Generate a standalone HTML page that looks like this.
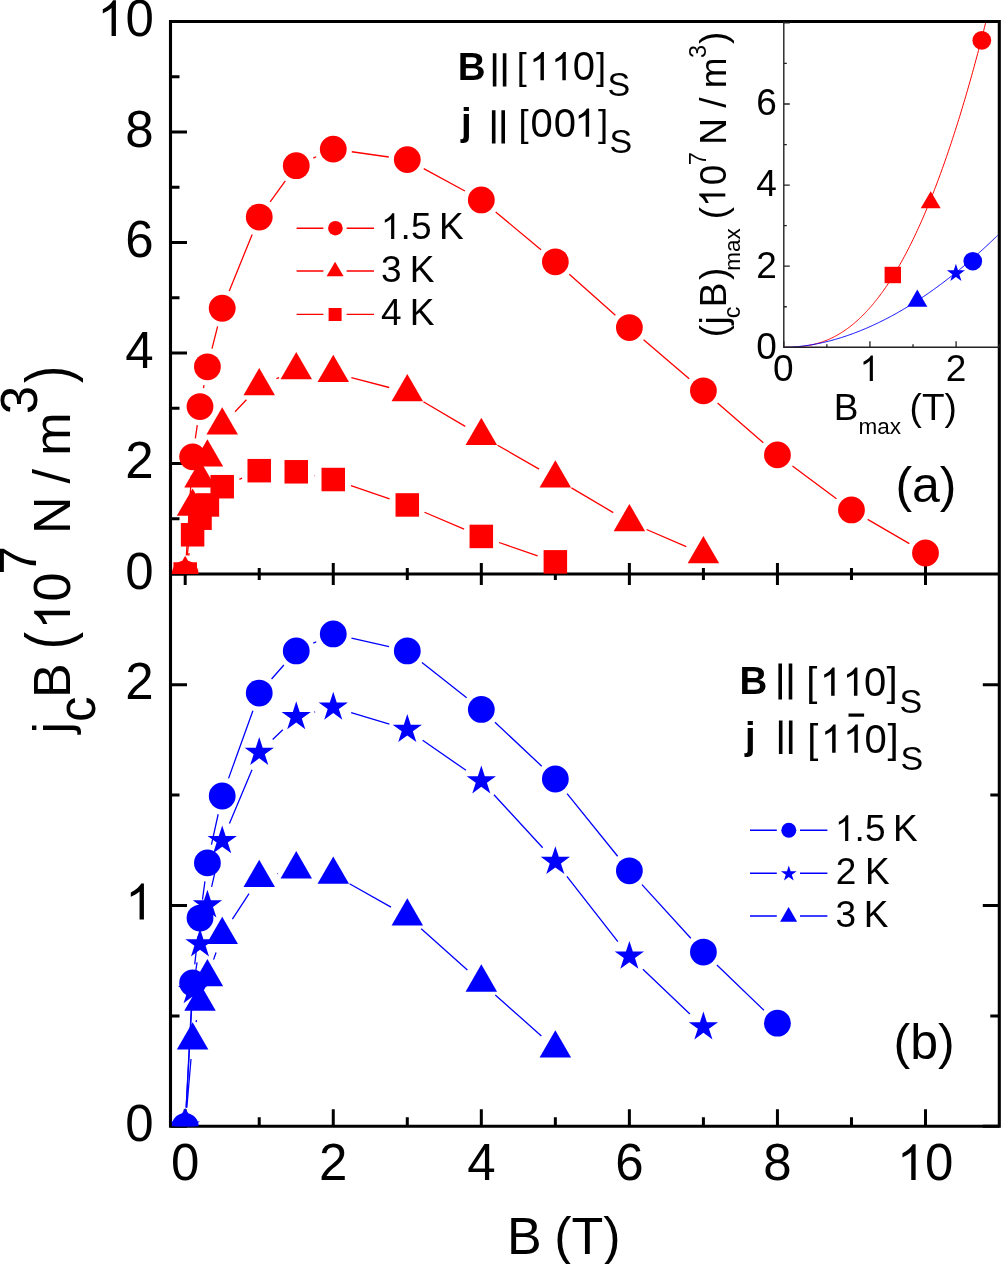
<!DOCTYPE html>
<html><head><meta charset="utf-8"><style>html,body{margin:0;padding:0;background:#fff;overflow:hidden}svg{display:block;will-change:transform}</style></head>
<body><svg width="1001" height="1264" viewBox="0 0 1001 1264" font-family="Liberation Sans, sans-serif">
<rect width="1001" height="1264" fill="#fff"/>
<defs><clipPath id="cu"><rect x="170.5" y="21.5" width="828.8" height="552.5"/></clipPath><clipPath id="cl"><rect x="170.5" y="574" width="828.8" height="552.3"/></clipPath><clipPath id="ci"><rect x="783.8" y="23" width="213.9000000000001" height="324.3"/></clipPath></defs>
<text x="457.82" y="80.40" font-size="38.5" font-weight="bold" fill="#000" xml:space="preserve">B</text>
<path d="M494.6,53.3V86.5M504.6,53.3V86.5M493.7,110.3V143.6M503.2,110.3V143.6" stroke="#000" stroke-width="3.6"/>
<text x="516.73" y="79.00" font-size="36" fill="#000" xml:space="preserve">[</text>
<path transform="translate(533.50,80.30) scale(0.01929)" d="M540,0H360V-1147C317,-1106 260,-1064 190,-1023C120,-982 57,-951 0,-930V-1104C101,-1151 189,-1209 264,-1276C339,-1343 392,-1408 424,-1472H540Z" fill="#000"/>
<path transform="translate(555.40,80.30) scale(0.01929)" d="M540,0H360V-1147C317,-1106 260,-1064 190,-1023C120,-982 57,-951 0,-930V-1104C101,-1151 189,-1209 264,-1276C339,-1343 392,-1408 424,-1472H540Z" fill="#000"/>
<text x="572.74" y="80.30" font-size="40" fill="#000" xml:space="preserve">0</text>
<text x="595.92" y="79.00" font-size="36" fill="#000" xml:space="preserve">]</text>
<text x="607.56" y="95.60" font-size="34" fill="#000" xml:space="preserve">S</text>
<text x="461.00" y="134.70" font-size="38.3" font-weight="bold" fill="#000" xml:space="preserve">j</text>
<text x="518.60" y="136.00" font-size="36.5" fill="#000" xml:space="preserve">[</text>
<text x="530.44" y="136.80" font-size="40" fill="#000" xml:space="preserve">0</text>
<text x="553.84" y="136.80" font-size="40" fill="#000" xml:space="preserve">0</text>
<path transform="translate(578.70,136.80) scale(0.01929)" d="M540,0H360V-1147C317,-1106 260,-1064 190,-1023C120,-982 57,-951 0,-930V-1104C101,-1151 189,-1209 264,-1276C339,-1343 392,-1408 424,-1472H540Z" fill="#000"/>
<text x="598.11" y="136.00" font-size="36.5" fill="#000" xml:space="preserve">]</text>
<text x="609.46" y="152.60" font-size="34" fill="#000" xml:space="preserve">S</text>
<text x="739.62" y="693.90" font-size="38.5" font-weight="bold" fill="#000" xml:space="preserve">B</text>
<path d="M780.2,663.5V699.6M790.5,663.5V699.6M780.7,720.5V754.1M790.7,720.5V754.1" stroke="#000" stroke-width="3.6"/>
<text x="806.15" y="695.80" font-size="40" fill="#000" xml:space="preserve">[</text>
<path transform="translate(824.20,695.80) scale(0.01929)" d="M540,0H360V-1147C317,-1106 260,-1064 190,-1023C120,-982 57,-951 0,-930V-1104C101,-1151 189,-1209 264,-1276C339,-1343 392,-1408 424,-1472H540Z" fill="#000"/>
<path transform="translate(847.00,695.80) scale(0.01929)" d="M540,0H360V-1147C317,-1106 260,-1064 190,-1023C120,-982 57,-951 0,-930V-1104C101,-1151 189,-1209 264,-1276C339,-1343 392,-1408 424,-1472H540Z" fill="#000"/>
<text x="864.04" y="695.80" font-size="40" fill="#000" xml:space="preserve">0</text>
<text x="886.59" y="695.80" font-size="40" fill="#000" xml:space="preserve">]</text>
<text x="899.56" y="713.40" font-size="34" fill="#000" xml:space="preserve">S</text>
<text x="745.09" y="748.70" font-size="38" font-weight="bold" fill="#000" xml:space="preserve">j</text>
<text x="807.15" y="752.80" font-size="40" fill="#000" xml:space="preserve">[</text>
<path transform="translate(825.20,752.80) scale(0.01929)" d="M540,0H360V-1147C317,-1106 260,-1064 190,-1023C120,-982 57,-951 0,-930V-1104C101,-1151 189,-1209 264,-1276C339,-1343 392,-1408 424,-1472H540Z" fill="#000"/>
<path transform="translate(847.40,752.80) scale(0.01929)" d="M540,0H360V-1147C317,-1106 260,-1064 190,-1023C120,-982 57,-951 0,-930V-1104C101,-1151 189,-1209 264,-1276C339,-1343 392,-1408 424,-1472H540Z" fill="#000"/>
<text x="864.44" y="752.80" font-size="40" fill="#000" xml:space="preserve">0</text>
<text x="887.49" y="752.80" font-size="40" fill="#000" xml:space="preserve">]</text>
<rect x="848.5" y="713.5" width="15.6" height="3.2" fill="#000"/>
<text x="900.46" y="770.40" font-size="34" fill="#000" xml:space="preserve">S</text>
<path d="M296.60,228.20h26.8M346.60,228.20h27.4" stroke="#ff0000" stroke-width="1.4"/><circle cx="335.40" cy="228.20" r="7.3" fill="#ff0000"/>
<path d="M296.60,271.00h26.8M346.60,271.00h27.4" stroke="#ff0000" stroke-width="1.4"/><polygon points="335.10,261.77 343.60,276.37 326.60,276.37" fill="#ff0000"/>
<path d="M296.60,314.40h26.8M346.60,314.40h27.4" stroke="#ff0000" stroke-width="1.4"/><rect x="328.60" y="308.00" width="13" height="13" fill="#ff0000"/>
<path transform="translate(384.80,239.00) scale(0.01753)" d="M540,0H360V-1147C317,-1106 260,-1064 190,-1023C120,-982 57,-951 0,-930V-1104C101,-1151 189,-1209 264,-1276C339,-1343 392,-1408 424,-1472H540Z" fill="#000"/>
<text x="400.62" y="239.00" font-size="37" fill="#000" xml:space="preserve">.5</text>
<text x="438.96" y="239.00" font-size="37" fill="#000" xml:space="preserve">K</text>
<text x="381.09" y="282.20" font-size="37" fill="#000" xml:space="preserve">3</text>
<text x="409.76" y="282.20" font-size="37" fill="#000" xml:space="preserve">K</text>
<text x="380.95" y="325.00" font-size="37" fill="#000" xml:space="preserve">4</text>
<text x="409.76" y="325.00" font-size="37" fill="#000" xml:space="preserve">K</text>
<path d="M750.00,830.30h26.8M800.00,830.30h27.4" stroke="#0000ff" stroke-width="1.4"/><circle cx="788.80" cy="830.30" r="7.5" fill="#0000ff"/>
<path d="M750.00,873.20h26.8M800.00,873.20h27.4" stroke="#0000ff" stroke-width="1.4"/><polygon points="788.80,865.50 790.66,871.23 796.69,871.24 791.82,874.78 793.68,880.51 788.80,876.97 783.92,880.51 785.78,874.78 780.91,871.24 786.94,871.23" fill="#0000ff"/>
<path d="M750.00,916.00h26.8M800.00,916.00h27.4" stroke="#0000ff" stroke-width="1.4"/><polygon points="788.60,907.07 797.10,921.67 780.10,921.67" fill="#0000ff"/>
<path transform="translate(838.80,841.00) scale(0.01753)" d="M540,0H360V-1147C317,-1106 260,-1064 190,-1023C120,-982 57,-951 0,-930V-1104C101,-1151 189,-1209 264,-1276C339,-1343 392,-1408 424,-1472H540Z" fill="#000"/>
<text x="854.62" y="841.00" font-size="37" fill="#000" xml:space="preserve">.5</text>
<text x="892.96" y="841.00" font-size="37" fill="#000" xml:space="preserve">K</text>
<text x="835.64" y="884.00" font-size="37" fill="#000" xml:space="preserve">2</text>
<text x="864.96" y="884.00" font-size="37" fill="#000" xml:space="preserve">K</text>
<text x="835.39" y="927.00" font-size="37" fill="#000" xml:space="preserve">3</text>
<text x="863.76" y="927.00" font-size="37" fill="#000" xml:space="preserve">K</text>
<text x="895.40" y="501.50" font-size="50" fill="#000" xml:space="preserve">(a)</text>
<text x="893.50" y="1058.80" font-size="50" fill="#000" xml:space="preserve">(b)</text>
<path d="M170.5,574.00h16.5M170.5,518.75h9M170.5,463.50h16.5M170.5,408.25h9M170.5,353.00h16.5M170.5,297.75h9M170.5,242.50h16.5M170.5,187.25h9M170.5,132.00h16.5M170.5,76.75h9M170.5,21.50h16.5M170.5,1126.30h16.5M999.3,1126.30h-16.5M170.5,1015.90h9M999.3,1015.90h-9M170.5,905.50h16.5M999.3,905.50h-16.5M170.5,795.10h9M999.3,795.10h-9M170.5,684.70h16.5M999.3,684.70h-16.5M185.20,563.0V585.0M259.23,568.0V580.0M333.26,563.0V585.0M407.29,568.0V580.0M481.32,563.0V585.0M555.35,568.0V580.0M629.38,563.0V585.0M703.41,568.0V580.0M777.44,563.0V585.0M851.47,568.0V580.0M925.50,563.0V585.0M185.20,1126.3v-17M259.23,1126.3v-9M333.26,1126.3v-17M407.29,1126.3v-9M481.32,1126.3v-17M555.35,1126.3v-9M629.38,1126.3v-17M703.41,1126.3v-9M777.44,1126.3v-17M851.47,1126.3v-9M925.50,1126.3v-17" stroke="#000" stroke-width="3" fill="none"/>
<path d="M170.5,21.5H999.3V1126.3H170.5Z M170.5,574.0H999.3" stroke="#000" stroke-width="3.1" fill="none"/>
<g clip-path="url(#cu)">
<path d="M186.38,555.34L191.42,475.53M195.33,438.37L197.28,425.09M203.43,388.21L203.99,385.20M211.99,348.68L217.63,326.38M229.25,290.92L252.19,234.41M270.16,201.91L285.31,180.88M313.31,158.06L316.19,156.77M351.77,151.75L388.78,157.00M423.71,168.57L464.90,191.01M495.67,211.95L541.00,249.84M569.33,274.26L615.40,315.17M643.60,339.73L689.19,378.65M717.55,403.03L763.30,442.64M792.45,466.04L836.46,498.75M867.63,519.32L909.34,543.60" stroke="#ff0000" stroke-width="1.3" fill="none"/>
<path d="M187.24,555.41L190.56,525.18M235.05,411.78L246.40,399.75M276.39,378.72L279.08,377.56M351.35,377.62L389.20,387.50M423.40,401.73L465.21,426.38M497.53,445.19L539.14,469.10M571.46,487.92L613.27,512.57M646.54,529.49L686.25,546.68" stroke="#ff0000" stroke-width="1.3" fill="none"/>
<path d="M188.67,555.62L189.14,553.15M239.38,479.28L242.07,478.11M314.55,475.61L314.96,475.70M350.95,485.59L389.60,498.87M424.50,512.26L464.11,529.11M499.01,542.50L537.66,555.77" stroke="#ff0000" stroke-width="1.3" fill="none"/>
<rect x="173.45" y="562.25" width="23.5" height="23.5" fill="#ff0000"/>
<rect x="180.85" y="523.02" width="23.5" height="23.5" fill="#ff0000"/>
<rect x="188.26" y="506.45" width="23.5" height="23.5" fill="#ff0000"/>
<rect x="195.66" y="493.19" width="23.5" height="23.5" fill="#ff0000"/>
<rect x="210.46" y="474.95" width="23.5" height="23.5" fill="#ff0000"/>
<rect x="247.48" y="458.93" width="23.5" height="23.5" fill="#ff0000"/>
<rect x="284.50" y="460.04" width="23.5" height="23.5" fill="#ff0000"/>
<rect x="321.51" y="467.77" width="23.5" height="23.5" fill="#ff0000"/>
<rect x="395.54" y="493.19" width="23.5" height="23.5" fill="#ff0000"/>
<rect x="469.57" y="524.68" width="23.5" height="23.5" fill="#ff0000"/>
<rect x="543.60" y="550.10" width="23.5" height="23.5" fill="#ff0000"/>
<polygon points="185.20,555.81 200.95,583.09 169.45,583.09" fill="#ff0000"/>
<polygon points="192.60,488.41 208.35,515.69 176.85,515.69" fill="#ff0000"/>
<polygon points="200.01,460.23 215.76,487.51 184.26,487.51" fill="#ff0000"/>
<polygon points="207.41,439.24 223.16,466.52 191.66,466.52" fill="#ff0000"/>
<polygon points="222.21,407.19 237.96,434.47 206.46,434.47" fill="#ff0000"/>
<polygon points="259.23,367.96 274.98,395.24 243.48,395.24" fill="#ff0000"/>
<polygon points="296.25,351.94 312.00,379.22 280.50,379.22" fill="#ff0000"/>
<polygon points="333.26,354.70 349.01,381.98 317.51,381.98" fill="#ff0000"/>
<polygon points="407.29,374.04 423.04,401.32 391.54,401.32" fill="#ff0000"/>
<polygon points="481.32,417.69 497.07,444.97 465.57,444.97" fill="#ff0000"/>
<polygon points="555.35,460.23 571.10,487.51 539.60,487.51" fill="#ff0000"/>
<polygon points="629.38,503.88 645.13,531.16 613.63,531.16" fill="#ff0000"/>
<polygon points="703.41,535.92 719.16,563.20 687.66,563.20" fill="#ff0000"/>
<circle cx="185.20" cy="574.00" r="13.4" fill="#ff0000"/>
<circle cx="192.60" cy="456.87" r="13.4" fill="#ff0000"/>
<circle cx="200.01" cy="406.59" r="13.4" fill="#ff0000"/>
<circle cx="207.41" cy="366.81" r="13.4" fill="#ff0000"/>
<circle cx="222.21" cy="308.25" r="13.4" fill="#ff0000"/>
<circle cx="259.23" cy="217.08" r="13.4" fill="#ff0000"/>
<circle cx="296.25" cy="165.70" r="13.4" fill="#ff0000"/>
<circle cx="333.26" cy="149.13" r="13.4" fill="#ff0000"/>
<circle cx="407.29" cy="159.62" r="13.4" fill="#ff0000"/>
<circle cx="481.32" cy="199.96" r="13.4" fill="#ff0000"/>
<circle cx="555.35" cy="261.84" r="13.4" fill="#ff0000"/>
<circle cx="629.38" cy="327.59" r="13.4" fill="#ff0000"/>
<circle cx="703.41" cy="390.79" r="13.4" fill="#ff0000"/>
<circle cx="777.44" cy="454.88" r="13.4" fill="#ff0000"/>
<circle cx="851.47" cy="509.91" r="13.4" fill="#ff0000"/>
<circle cx="925.50" cy="553.00" r="13.4" fill="#ff0000"/>
</g>
<g clip-path="url(#cl)">
<path d="M186.16,1107.62L191.64,1001.68M194.72,964.42L197.89,936.67M202.49,899.55L204.92,881.42M211.45,844.63L218.17,814.24M228.55,778.39L252.90,710.69M271.57,679.04L283.91,664.97M313.24,643.11L316.27,641.72M351.49,638.10L389.06,646.73M421.96,662.51L466.65,697.83M494.95,722.23L541.72,766.18M567.08,793.54L617.65,856.27M641.97,884.66L690.82,938.27M716.90,965.04L763.95,1010.23" stroke="#0000ff" stroke-width="1.3" fill="none"/>
<path d="M186.22,1107.63L191.58,1009.40M195.52,972.26L197.08,962.39M203.51,925.55L203.91,923.43M211.61,886.84L218.02,859.03M229.44,823.56L252.00,769.73M272.68,739.49L282.80,729.71M314.36,712.07L315.15,711.87M351.17,712.62L389.38,724.13M422.65,740.19L465.96,770.30M493.97,794.74L542.70,847.79M566.87,876.29L617.86,941.55M642.91,969.20L689.88,1014.03" stroke="#0000ff" stroke-width="1.3" fill="none"/>
<path d="M186.81,1107.67L191.00,1059.04M196.12,1022.04L196.49,1020.13M213.57,959.61L216.05,952.52M232.40,919.19L249.04,893.58M277.44,873.66L278.03,873.53M349.55,883.77L391.00,907.14M421.23,928.79L467.38,970.09M495.30,994.98L541.37,1035.93" stroke="#0000ff" stroke-width="1.3" fill="none"/>
<polygon points="185.20,1108.11 200.95,1135.39 169.45,1135.39" fill="#0000ff"/>
<polygon points="192.60,1022.22 208.35,1049.50 176.85,1049.50" fill="#0000ff"/>
<polygon points="200.01,983.58 215.76,1010.86 184.26,1010.86" fill="#0000ff"/>
<polygon points="207.41,959.07 223.16,986.35 191.66,986.35" fill="#0000ff"/>
<polygon points="222.21,916.68 237.96,943.96 206.46,943.96" fill="#0000ff"/>
<polygon points="259.23,859.71 274.98,886.99 243.48,886.99" fill="#0000ff"/>
<polygon points="296.25,851.10 312.00,878.38 280.50,878.38" fill="#0000ff"/>
<polygon points="333.26,856.40 349.01,883.68 317.51,883.68" fill="#0000ff"/>
<polygon points="407.29,898.13 423.04,925.41 391.54,925.41" fill="#0000ff"/>
<polygon points="481.32,964.37 497.07,991.65 465.57,991.65" fill="#0000ff"/>
<polygon points="555.35,1030.17 571.10,1057.45 539.60,1057.45" fill="#0000ff"/>
<polygon points="185.20,1110.90 188.66,1121.54 199.85,1121.54 190.79,1128.12 194.25,1138.76 185.20,1132.18 176.15,1138.76 179.61,1128.12 170.55,1121.54 181.74,1121.54" fill="#0000ff"/>
<polygon points="192.60,975.33 196.06,985.97 207.25,985.97 198.20,992.55 201.65,1003.19 192.60,996.61 183.55,1003.19 187.01,992.55 177.96,985.97 189.15,985.97" fill="#0000ff"/>
<polygon points="200.01,928.52 203.46,939.16 214.65,939.16 205.60,945.74 209.06,956.38 200.01,949.80 190.95,956.38 194.41,945.74 185.36,939.16 196.55,939.16" fill="#0000ff"/>
<polygon points="207.41,889.66 210.87,900.30 222.06,900.30 213.00,906.88 216.46,917.52 207.41,910.94 198.36,917.52 201.81,906.88 192.76,900.30 203.95,900.30" fill="#0000ff"/>
<polygon points="222.21,825.41 225.67,836.05 236.86,836.05 227.81,842.62 231.27,853.26 222.21,846.69 213.16,853.26 216.62,842.62 207.57,836.05 218.76,836.05" fill="#0000ff"/>
<polygon points="259.23,737.09 262.69,747.73 273.88,747.73 264.82,754.30 268.28,764.94 259.23,758.37 250.18,764.94 253.64,754.30 244.58,747.73 255.77,747.73" fill="#0000ff"/>
<polygon points="296.25,701.32 299.70,711.96 310.89,711.96 301.84,718.53 305.30,729.17 296.25,722.60 287.19,729.17 290.65,718.53 281.60,711.96 292.79,711.96" fill="#0000ff"/>
<polygon points="333.26,691.82 336.72,702.46 347.91,702.46 338.85,709.04 342.31,719.68 333.26,713.10 324.21,719.68 327.67,709.04 318.61,702.46 329.80,702.46" fill="#0000ff"/>
<polygon points="407.29,714.12 410.75,724.76 421.94,724.76 412.88,731.34 416.34,741.98 407.29,735.41 398.24,741.98 401.70,731.34 392.64,724.76 403.83,724.76" fill="#0000ff"/>
<polygon points="481.32,765.57 484.78,776.21 495.97,776.21 486.91,782.79 490.37,793.43 481.32,786.85 472.27,793.43 475.73,782.79 466.67,776.21 477.86,776.21" fill="#0000ff"/>
<polygon points="555.35,846.16 558.81,856.80 570.00,856.80 560.94,863.38 564.40,874.02 555.35,867.44 546.30,874.02 549.76,863.38 540.70,856.80 551.89,856.80" fill="#0000ff"/>
<polygon points="629.38,940.88 632.84,951.52 644.03,951.53 634.97,958.10 638.43,968.74 629.38,962.17 620.33,968.74 623.79,958.10 614.73,951.53 625.92,951.52" fill="#0000ff"/>
<polygon points="703.41,1011.54 706.87,1022.18 718.06,1022.18 709.00,1028.76 712.46,1039.40 703.41,1032.82 694.36,1039.40 697.82,1028.76 688.76,1022.18 699.95,1022.18" fill="#0000ff"/>
<circle cx="185.20" cy="1126.30" r="13.4" fill="#0000ff"/>
<circle cx="192.60" cy="983.00" r="13.4" fill="#0000ff"/>
<circle cx="200.01" cy="918.09" r="13.4" fill="#0000ff"/>
<circle cx="207.41" cy="862.89" r="13.4" fill="#0000ff"/>
<circle cx="222.21" cy="795.98" r="13.4" fill="#0000ff"/>
<circle cx="259.23" cy="693.09" r="13.4" fill="#0000ff"/>
<circle cx="296.25" cy="650.92" r="13.4" fill="#0000ff"/>
<circle cx="333.26" cy="633.92" r="13.4" fill="#0000ff"/>
<circle cx="407.29" cy="650.92" r="13.4" fill="#0000ff"/>
<circle cx="481.32" cy="709.43" r="13.4" fill="#0000ff"/>
<circle cx="555.35" cy="778.98" r="13.4" fill="#0000ff"/>
<circle cx="629.38" cy="870.83" r="13.4" fill="#0000ff"/>
<circle cx="703.41" cy="952.09" r="13.4" fill="#0000ff"/>
<circle cx="777.44" cy="1023.19" r="13.4" fill="#0000ff"/>
</g>
<g clip-path="url(#ci)">
<polyline points="783.80,347.30 784.66,347.30 785.52,347.30 786.38,347.29 787.25,347.29 788.11,347.28 788.97,347.26 789.83,347.24 790.69,347.22 791.55,347.20 792.41,347.17 793.28,347.13 794.14,347.09 795.00,347.04 795.86,346.99 796.72,346.93 797.58,346.87 798.45,346.80 799.31,346.73 800.17,346.65 801.03,346.56 801.89,346.46 802.75,346.36 803.61,346.25 804.48,346.13 805.34,346.01 806.20,345.88 807.06,345.74 807.92,345.59 808.78,345.44 809.64,345.28 810.51,345.11 811.37,344.93 812.23,344.74 813.09,344.54 813.95,344.34 814.81,344.13 815.68,343.90 816.54,343.67 817.40,343.43 818.26,343.18 819.12,342.92 819.98,342.65 820.84,342.38 821.71,342.09 822.57,341.79 823.43,341.48 824.29,341.17 825.15,340.84 826.01,340.50 826.88,340.15 827.74,339.80 828.60,339.43 829.46,339.05 830.32,338.66 831.18,338.26 832.04,337.84 832.91,337.42 833.77,336.99 834.63,336.54 835.49,336.09 836.35,335.62 837.21,335.14 838.07,334.65 838.94,334.15 839.80,333.64 840.66,333.11 841.52,332.57 842.38,332.02 843.24,331.46 844.10,330.89 844.97,330.31 845.83,329.71 846.69,329.10 847.55,328.48 848.41,327.84 849.27,327.19 850.14,326.53 851.00,325.86 851.86,325.18 852.72,324.48 853.58,323.77 854.44,323.04 855.30,322.31 856.17,321.56 857.03,320.79 857.89,320.01 858.75,319.22 859.61,318.42 860.47,317.60 861.33,316.77 862.20,315.93 863.06,315.07 863.92,314.20 864.78,313.31 865.64,312.41 866.50,311.49 867.37,310.57 868.23,309.62 869.09,308.67 869.95,307.69 870.81,306.71 871.67,305.71 872.53,304.69 873.40,303.67 874.26,302.62 875.12,301.56 875.98,300.49 876.84,299.40 877.70,298.30 878.56,297.18 879.43,296.05 880.29,294.90 881.15,293.74 882.01,292.56 882.87,291.36 883.73,290.15 884.60,288.93 885.46,287.69 886.32,286.43 887.18,285.16 888.04,283.87 888.90,282.57 889.76,281.25 890.63,279.92 891.49,278.57 892.35,277.20 893.21,275.82 894.07,274.42 894.93,273.01 895.79,271.58 896.66,270.13 897.52,268.66 898.38,267.18 899.24,265.69 900.10,264.18 900.96,262.65 901.83,261.10 902.69,259.54 903.55,257.96 904.41,256.36 905.27,254.75 906.13,253.12 906.99,251.47 907.86,249.81 908.72,248.13 909.58,246.43 910.44,244.71 911.30,242.98 912.16,241.23 913.02,239.46 913.89,237.68 914.75,235.88 915.61,234.06 916.47,232.22 917.33,230.36 918.19,228.49 919.06,226.60 919.92,224.69 920.78,222.77 921.64,220.82 922.50,218.86 923.36,216.88 924.22,214.88 925.09,212.87 925.95,210.83 926.81,208.78 927.67,206.71 928.53,204.62 929.39,202.52 930.25,200.39 931.12,198.25 931.98,196.08 932.84,193.90 933.70,191.70 934.56,189.48 935.42,187.25 936.29,184.99 937.15,182.72 938.01,180.42 938.87,178.11 939.73,175.78 940.59,173.43 941.45,171.06 942.32,168.67 943.18,166.26 944.04,163.83 944.90,161.39 945.76,158.92 946.62,156.44 947.48,153.93 948.35,151.41 949.21,148.86 950.07,146.30 950.93,143.72 951.79,141.12 952.65,138.49 953.52,135.85 954.38,133.19 955.24,130.51 956.10,127.81 956.96,125.09 957.82,122.35 958.68,119.59 959.55,116.80 960.41,114.00 961.27,111.18 962.13,108.34 962.99,105.48 963.85,102.60 964.71,99.69 965.58,96.77 966.44,93.83 967.30,90.86 968.16,87.88 969.02,84.87 969.88,81.85 970.75,78.80 971.61,75.73 972.47,72.65 973.33,69.54 974.19,66.41 975.05,63.26 975.91,60.09 976.78,56.89 977.64,53.68 978.50,50.45 979.36,47.19 980.22,43.91 981.08,40.62 981.94,37.30 982.81,33.96 983.67,30.60 984.53,27.21 985.39,23.81 986.25,20.38 987.11,16.94 987.98,13.47 988.84,9.98 989.70,6.46 990.56,2.93 991.42,-0.63 992.28,-4.20 993.14,-7.80 994.01,-11.42 994.87,-15.07 995.73,-18.73 996.59,-22.42 997.45,-26.13 998.31,-29.86 999.17,-33.61" stroke="#ff0000" stroke-width="1.0" fill="none"/>
<polyline points="783.80,347.30 784.66,347.30 785.52,347.29 786.38,347.27 787.25,347.25 788.11,347.22 788.97,347.19 789.83,347.15 790.69,347.11 791.55,347.07 792.41,347.01 793.28,346.96 794.14,346.90 795.00,346.84 795.86,346.77 796.72,346.69 797.58,346.62 798.45,346.53 799.31,346.45 800.17,346.36 801.03,346.26 801.89,346.17 802.75,346.06 803.61,345.96 804.48,345.85 805.34,345.73 806.20,345.61 807.06,345.49 807.92,345.36 808.78,345.23 809.64,345.10 810.51,344.96 811.37,344.82 812.23,344.67 813.09,344.52 813.95,344.37 814.81,344.21 815.68,344.05 816.54,343.88 817.40,343.72 818.26,343.54 819.12,343.37 819.98,343.19 820.84,343.00 821.71,342.81 822.57,342.62 823.43,342.43 824.29,342.23 825.15,342.03 826.01,341.82 826.88,341.61 827.74,341.40 828.60,341.18 829.46,340.96 830.32,340.74 831.18,340.51 832.04,340.28 832.91,340.04 833.77,339.80 834.63,339.56 835.49,339.32 836.35,339.07 837.21,338.81 838.07,338.56 838.94,338.30 839.80,338.03 840.66,337.77 841.52,337.50 842.38,337.22 843.24,336.95 844.10,336.67 844.97,336.38 845.83,336.09 846.69,335.80 847.55,335.51 848.41,335.21 849.27,334.91 850.14,334.60 851.00,334.30 851.86,333.98 852.72,333.67 853.58,333.35 854.44,333.03 855.30,332.70 856.17,332.37 857.03,332.04 857.89,331.71 858.75,331.37 859.61,331.03 860.47,330.68 861.33,330.33 862.20,329.98 863.06,329.62 863.92,329.26 864.78,328.90 865.64,328.54 866.50,328.17 867.37,327.80 868.23,327.42 869.09,327.04 869.95,326.66 870.81,326.27 871.67,325.88 872.53,325.49 873.40,325.10 874.26,324.70 875.12,324.30 875.98,323.89 876.84,323.48 877.70,323.07 878.56,322.66 879.43,322.24 880.29,321.82 881.15,321.39 882.01,320.96 882.87,320.53 883.73,320.10 884.60,319.66 885.46,319.22 886.32,318.78 887.18,318.33 888.04,317.88 888.90,317.43 889.76,316.97 890.63,316.51 891.49,316.04 892.35,315.58 893.21,315.11 894.07,314.64 894.93,314.16 895.79,313.68 896.66,313.20 897.52,312.71 898.38,312.22 899.24,311.73 900.10,311.24 900.96,310.74 901.83,310.24 902.69,309.73 903.55,309.22 904.41,308.71 905.27,308.20 906.13,307.68 906.99,307.16 907.86,306.64 908.72,306.11 909.58,305.58 910.44,305.05 911.30,304.51 912.16,303.97 913.02,303.43 913.89,302.89 914.75,302.34 915.61,301.79 916.47,301.23 917.33,300.67 918.19,300.11 919.06,299.55 919.92,298.98 920.78,298.41 921.64,297.84 922.50,297.26 923.36,296.68 924.22,296.10 925.09,295.52 925.95,294.93 926.81,294.33 927.67,293.74 928.53,293.14 929.39,292.54 930.25,291.94 931.12,291.33 931.98,290.72 932.84,290.11 933.70,289.49 934.56,288.87 935.42,288.25 936.29,287.62 937.15,287.00 938.01,286.36 938.87,285.73 939.73,285.09 940.59,284.45 941.45,283.81 942.32,283.16 943.18,282.51 944.04,281.86 944.90,281.20 945.76,280.54 946.62,279.88 947.48,279.22 948.35,278.55 949.21,277.88 950.07,277.21 950.93,276.53 951.79,275.85 952.65,275.17 953.52,274.48 954.38,273.79 955.24,273.10 956.10,272.41 956.96,271.71 957.82,271.01 958.68,270.30 959.55,269.60 960.41,268.89 961.27,268.17 962.13,267.46 962.99,266.74 963.85,266.02 964.71,265.29 965.58,264.57 966.44,263.84 967.30,263.10 968.16,262.37 969.02,261.63 969.88,260.88 970.75,260.14 971.61,259.39 972.47,258.64 973.33,257.88 974.19,257.13 975.05,256.37 975.91,255.60 976.78,254.84 977.64,254.07 978.50,253.30 979.36,252.52 980.22,251.74 981.08,250.96 981.94,250.18 982.81,249.39 983.67,248.60 984.53,247.81 985.39,247.02 986.25,246.22 987.11,245.42 987.98,244.61 988.84,243.81 989.70,243.00 990.56,242.18 991.42,241.37 992.28,240.55 993.14,239.73 994.01,238.90 994.87,238.07 995.73,237.24 996.59,236.41 997.45,235.57 998.31,234.73 999.17,233.89" stroke="#0000ff" stroke-width="1.0" fill="none"/>
<rect x="884.60" y="266.80" width="16.4" height="16.4" fill="#ff0000"/>
<polygon points="930.70,191.37 940.70,208.37 920.70,208.37" fill="#ff0000"/>
<circle cx="981.80" cy="40.40" r="9.4" fill="#ff0000"/>
<polygon points="917.30,289.57 927.30,306.87 907.30,306.87" fill="#0000ff"/>
<polygon points="955.90,263.80 958.03,270.36 964.94,270.36 959.35,274.42 961.48,280.99 955.90,276.93 950.32,280.99 952.45,274.42 946.86,270.36 953.77,270.36" fill="#0000ff"/>
<circle cx="972.80" cy="261.20" r="9.3" fill="#0000ff"/>
</g>
<path d="M783.80,347.3v-6M826.88,347.3v-3M869.95,347.3v-6M913.02,347.3v-3M956.10,347.3v-6M999.17,347.3v-3M783.8,347.30h6M783.8,306.75h3M783.8,266.20h6M783.8,225.65h3M783.8,185.10h6M783.8,144.55h3M783.8,104.00h6M783.8,63.45h3M783.8,22.90h6" stroke="#222" stroke-width="1.3" fill="none"/>
<path d="M783.8,21.5V347.3H999.3" stroke="#222" stroke-width="1.4" fill="none"/>
<text x="776.80" y="359.2" font-size="37" text-anchor="end">0</text>
<text x="776.80" y="278" font-size="37" text-anchor="end">2</text>
<text x="776.80" y="196.4" font-size="37" text-anchor="end">4</text>
<text x="776.80" y="115.3" font-size="37" text-anchor="end">6</text>
<text x="772.95" y="380.60" font-size="37" fill="#000" xml:space="preserve">0</text>
<path transform="translate(863.50,381.00) scale(0.01738)" d="M540,0H360V-1147C317,-1106 260,-1064 190,-1023C120,-982 57,-951 0,-930V-1104C101,-1151 189,-1209 264,-1276C339,-1343 392,-1408 424,-1472H540Z" fill="#000"/>
<text x="945.74" y="380.80" font-size="37" fill="#000" xml:space="preserve">2</text>
<text x="833.76" y="419.50" font-size="37" fill="#000" xml:space="preserve">B</text>
<text x="858.51" y="433.90" font-size="22.5" fill="#000" xml:space="preserve">max</text>
<text x="909.61" y="419.50" font-size="37" fill="#000" xml:space="preserve">(T)</text>
<text transform="translate(725.60,337.29) rotate(-90)" font-size="37" xml:space="preserve">(</text>
<text transform="translate(725.60,324.60) rotate(-90)" font-size="37" xml:space="preserve">j</text>
<text transform="translate(739.50,318.30) rotate(-90)" font-size="23.5" xml:space="preserve">c</text>
<text transform="translate(725.60,307.14) rotate(-90)" font-size="37" xml:space="preserve">B</text>
<text transform="translate(725.60,279.92) rotate(-90)" font-size="37" xml:space="preserve">)</text>
<text transform="translate(739.50,270.69) rotate(-90)" font-size="22.5" xml:space="preserve">max</text>
<text transform="translate(725.60,219.29) rotate(-90)" font-size="37" xml:space="preserve">(</text>
<path transform="translate(725.30,203.00) rotate(-90) scale(0.01772)" d="M540,0H360V-1147C317,-1106 260,-1064 190,-1023C120,-982 57,-951 0,-930V-1104C101,-1151 189,-1209 264,-1276C339,-1343 392,-1408 424,-1472H540Z" fill="#000"/>
<text transform="translate(725.60,185.25) rotate(-90)" font-size="37" xml:space="preserve">0</text>
<text transform="translate(705.50,165.20) rotate(-90)" font-size="23.5" xml:space="preserve">7</text>
<text transform="translate(725.60,144.84) rotate(-90)" font-size="37" xml:space="preserve">N</text>
<text transform="translate(725.60,107.80) rotate(-90)" font-size="37" xml:space="preserve">/</text>
<text transform="translate(725.60,88.16) rotate(-90)" font-size="37" xml:space="preserve">m</text>
<text transform="translate(705.50,58.10) rotate(-90)" font-size="23.5" xml:space="preserve">3</text>
<text transform="translate(725.60,43.92) rotate(-90)" font-size="37" xml:space="preserve">)</text>
<text x="153.5" y="588.50" font-size="51" text-anchor="end">0</text>
<text x="153.5" y="478.00" font-size="51" text-anchor="end">2</text>
<text x="153.5" y="367.50" font-size="51" text-anchor="end">4</text>
<text x="153.5" y="257.00" font-size="51" text-anchor="end">6</text>
<text x="153.5" y="146.50" font-size="51" text-anchor="end">8</text>
<path transform="translate(102.80,36.00) scale(0.02432)" d="M540,0H360V-1147C317,-1106 260,-1064 190,-1023C120,-982 57,-951 0,-930V-1104C101,-1151 189,-1209 264,-1276C339,-1343 392,-1408 424,-1472H540Z" fill="#000"/>
<text x="125.61" y="36.00" font-size="51" fill="#000" xml:space="preserve">0</text>
<text x="153.5" y="1140.80" font-size="51" text-anchor="end">0</text>
<text x="153.5" y="699.20" font-size="51" text-anchor="end">2</text>
<path transform="translate(130.80,919.40) scale(0.02432)" d="M540,0H360V-1147C317,-1106 260,-1064 190,-1023C120,-982 57,-951 0,-930V-1104C101,-1151 189,-1209 264,-1276C339,-1343 392,-1408 424,-1472H540Z" fill="#000"/>
<text x="185.20" y="1180" font-size="51" text-anchor="middle">0</text>
<text x="333.26" y="1180" font-size="51" text-anchor="middle">2</text>
<text x="481.32" y="1180" font-size="51" text-anchor="middle">4</text>
<text x="629.38" y="1180" font-size="51" text-anchor="middle">6</text>
<text x="777.44" y="1180" font-size="51" text-anchor="middle">8</text>
<path transform="translate(902.50,1180.00) scale(0.02432)" d="M540,0H360V-1147C317,-1106 260,-1064 190,-1023C120,-982 57,-951 0,-930V-1104C101,-1151 189,-1209 264,-1276C339,-1343 392,-1408 424,-1472H540Z" fill="#000"/>
<text x="925.01" y="1180.00" font-size="51" fill="#000" xml:space="preserve">0</text>
<text x="506.93" y="1253.80" font-size="52" fill="#000" xml:space="preserve">B</text>
<text x="554.28" y="1253.80" font-size="52" fill="#000" xml:space="preserve">(T)</text>
<text transform="translate(70.00,733.53) rotate(-90)" font-size="52" xml:space="preserve">j</text>
<text transform="translate(95.20,721.97) rotate(-90)" font-size="51" xml:space="preserve">c</text>
<text transform="translate(70.00,697.97) rotate(-90)" font-size="52" xml:space="preserve">B</text>
<text transform="translate(70.00,649.22) rotate(-90) scale(1,1.225)" font-size="52" xml:space="preserve">(</text>
<path transform="translate(70.00,624.00) rotate(-90) scale(0.02432)" d="M540,0H360V-1147C317,-1106 260,-1064 190,-1023C120,-982 57,-951 0,-930V-1104C101,-1151 189,-1209 264,-1276C339,-1343 392,-1408 424,-1472H540Z" fill="#000"/>
<text transform="translate(70.00,601.53) rotate(-90)" font-size="52" xml:space="preserve">0</text>
<text transform="translate(36.00,574.61) rotate(-90)" font-size="51" xml:space="preserve">7</text>
<text transform="translate(70.00,533.97) rotate(-90)" font-size="52" xml:space="preserve">N</text>
<text transform="translate(70.00,483.60) rotate(-90)" font-size="52" xml:space="preserve">/</text>
<text transform="translate(70.00,455.75) rotate(-90)" font-size="52" xml:space="preserve">m</text>
<text transform="translate(36.60,414.14) rotate(-90)" font-size="51" xml:space="preserve">3</text>
<text transform="translate(70.00,382.90) rotate(-90) scale(1,1.225)" font-size="52" xml:space="preserve">)</text>
</svg></body></html>
